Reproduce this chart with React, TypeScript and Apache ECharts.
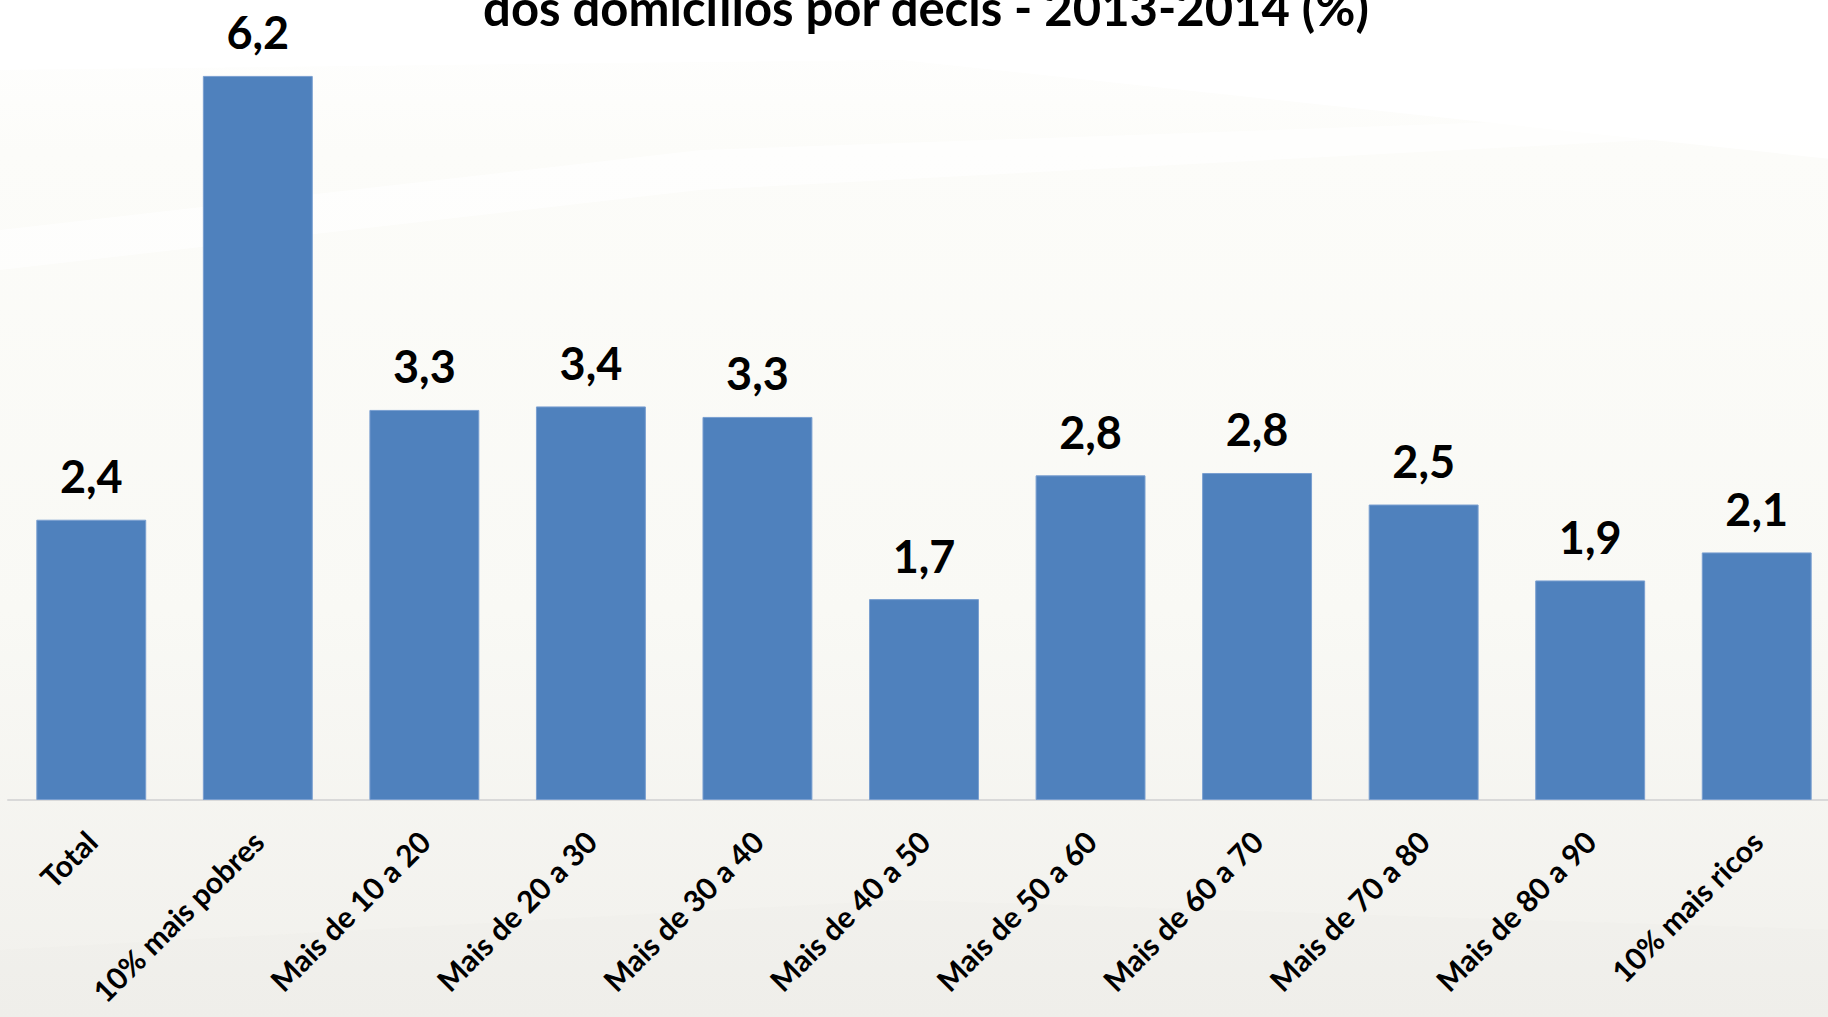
import React, { useEffect, useRef } from "react";
import * as echarts from "echarts";

const categories = [
  "Total",
  "10% mais pobres",
  "Mais de 10 a 20",
  "Mais de 20 a 30",
  "Mais de 30 a 40",
  "Mais de 40 a 50",
  "Mais de 50 a 60",
  "Mais de 60 a 70",
  "Mais de 70 a 80",
  "Mais de 80 a 90",
  "10% mais ricos",
];

const values = [2.4, 6.2, 3.34, 3.37, 3.28, 1.72, 2.78, 2.8, 2.53, 1.88, 2.12];

const titleText = "dos domicílios por decis - 2013-2014 (%)";

const FONT = "Lato, 'Open Sans', 'DejaVu Sans', sans-serif";

export default function App() {
  const ref = useRef<HTMLDivElement>(null);

  useEffect(() => {
    if (!ref.current) return;
    const chart = echarts.init(ref.current, null, { renderer: "svg" });
    chart.setOption({
      animation: false,
      backgroundColor: {
        type: "linear",
        x: 0,
        y: 0,
        x2: 0,
        y2: 1,
        colorStops: [
          { offset: 0, color: "#ffffff" },
          { offset: 0.15, color: "#fcfcf9" },
          { offset: 0.6, color: "#f9f9f5" },
          { offset: 1, color: "#f1f0ec" },
        ],
      },
      graphic: [
        {
          type: "polygon",
          silent: true,
          z: -10,
          shape: { points: [[0, 0], [1840, 0], [1840, 160], [900, 60], [0, 70]] },
          style: { fill: "rgba(255,255,255,0.85)" },
        },
        {
          type: "polygon",
          silent: true,
          z: -10,
          shape: { points: [[0, 230], [700, 150], [1840, 110], [1840, 130], [700, 190], [0, 270]] },
          style: { fill: "rgba(255,255,255,0.6)" },
        },
        {
          type: "polygon",
          silent: true,
          z: -10,
          shape: { points: [[0, 950], [900, 900], [1840, 930], [1840, 1017], [0, 1017]] },
          style: { fill: "rgba(230,229,222,0.12)" },
        },
        {
          type: "text",
          x: 926,
          y: 7,
          z: 10,
          style: {
            text: titleText,
            fill: "#000000",
            font: `bold 49px ${FONT}`,
            textAlign: "center",
            textVerticalAlign: "middle",
          },
        },
      ],
      grid: { left: 8, top: 0, right: 0, height: 800, containLabel: false },
      xAxis: {
        type: "category",
        data: categories,
        axisLine: { show: true, lineStyle: { color: "#d9d9d9", width: 2 } },
        axisTick: { show: false },
        axisLabel: {
          rotate: 45,
          interval: 0,
          margin: 36,
          color: "#000000",
          fontFamily: FONT,
          fontWeight: "bold",
          fontSize: 30,
        },
      },
      yAxis: {
        type: "value",
        min: 0,
        max: 6.85,
        show: false,
        splitLine: { show: false },
      },
      series: [
        {
          type: "bar",
          data: values,
          barWidth: "66%",
          itemStyle: { color: "#4f81bd", borderColor: "#7a9fd0", borderWidth: 1 },
          label: {
            show: true,
            position: "top",
            distance: 21,
            color: "#000000",
            fontFamily: FONT,
            fontWeight: "bold",
            fontSize: 45,
            formatter: (p: any) => Number(p.value).toFixed(1).replace(".", ","),
          },
        },
      ],
    });
    return () => chart.dispose();
  }, []);

  return (
    <div
      ref={ref}
      style={{ position: "fixed", left: 0, top: 0, width: 1840, height: 1017 }}
    />
  );
}
